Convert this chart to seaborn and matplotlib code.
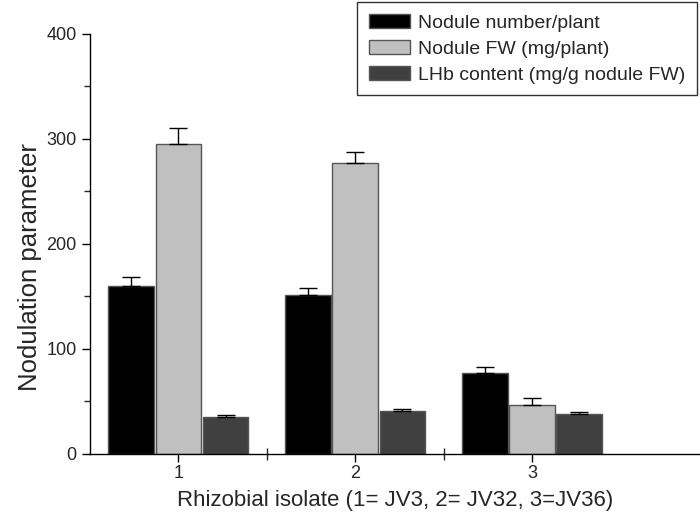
import numpy as np
import pandas as pd
import matplotlib
matplotlib.use('Agg')
import matplotlib.pyplot as plt
from matplotlib.ticker import MultipleLocator, FixedLocator
import seaborn as sns

isolates = ['1', '2', '3']
params = ['Nodule number/plant', 'Nodule FW (mg/plant)', 'LHb content (mg/g nodule FW)']
nodule_number = [160, 151, 77]
nodule_number_err = [9, 7, 6]
nodule_fw = [295, 277, 47]
nodule_fw_err = [15, 11, 6.5]
lhb_content = [35, 41, 38.5]
lhb_content_err = [2, 2, 1.5]

colors = ['#000000', '#c0c0c0', '#404040']

df = pd.DataFrame({
    'isolate': isolates * 3,
    'param': [params[0]] * 3 + [params[1]] * 3 + [params[2]] * 3,
    'value': nodule_number + nodule_fw + lhb_content,
    'err': nodule_number_err + nodule_fw_err + lhb_content_err,
})

sns.set_style('ticks')
plt.rcParams['font.family'] = ['Liberation Sans', 'DejaVu Sans']

fig = plt.figure(figsize=(7, 5.2), dpi=100)
ax = fig.add_axes([0.1286, 0.127, 0.8714, 0.8077])

sns.barplot(data=df, x='isolate', y='value', hue='param', hue_order=params,
            palette=colors, width=0.8, gap=0.03, errorbar=None,
            edgecolor='#555555', linewidth=1, saturation=1, ax=ax, legend=False)

# error bars on top of each bar (upper side only)
for cont, p in zip(ax.containers, params):
    sub = df[df['param'] == p]
    xs = [b.get_x() + b.get_width() / 2 for b in cont.patches]
    ax.errorbar(xs, sub['value'].values,
                yerr=[np.zeros(len(sub)), sub['err'].values],
                fmt='none', ecolor='black', elinewidth=1, capsize=6.5, capthick=1)

ax.set_ylim(0, 400)
ax.set_xlim(-0.5, 2.95)
ax.yaxis.set_major_locator(MultipleLocator(100))
ax.yaxis.set_minor_locator(MultipleLocator(50))
ax.xaxis.set_minor_locator(FixedLocator([0.5, 1.5]))
ax.tick_params(axis='both', which='major', direction='out', length=6, width=1,
               labelsize=13, color='black')
ax.tick_params(axis='y', which='minor', direction='out', length=4, width=1)
ax.tick_params(axis='x', which='minor', direction='inout', length=8, width=1)
ax.tick_params(axis='x', which='major', pad=2)

sns.despine(ax=ax)
for s in ['left', 'bottom']:
    ax.spines[s].set_color('black')
    ax.spines[s].set_linewidth(1)

ax.set_xlabel('Rhizobial isolate (1= JV3, 2= JV32, 3=JV36)', fontsize=16, labelpad=6)
ax.set_ylabel('Nodulation parameter', fontsize=18.5)
ax.yaxis.set_label_coords(-0.078, 0.445)

handles = [plt.Rectangle((0, 0), 1, 1, facecolor=c, edgecolor='#555555') for c in colors]
leg = fig.legend(handles, ['Nodule number/plant', 'Nodule FW (mg/plant)',
                           'LHb content (mg/g nodule FW)'],
                 loc='upper right', bbox_to_anchor=(0.996, 0.996), fontsize=14,
                 frameon=True, fancybox=False, edgecolor='black',
                 handlelength=2.1, handleheight=0.75, borderpad=0.6,
                 labelspacing=0.42, handletextpad=0.45, borderaxespad=0)
leg.get_frame().set_linewidth(1)

fig.savefig('out.png', dpi=100)
